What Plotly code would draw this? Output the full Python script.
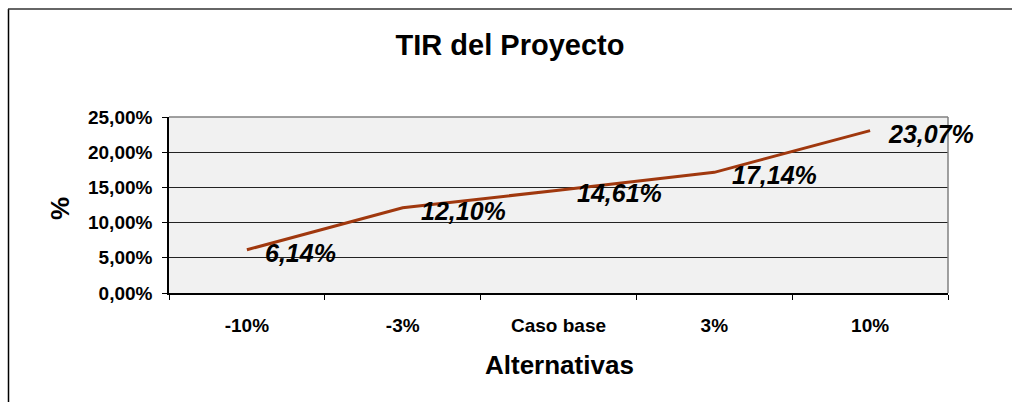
import plotly.graph_objects as go

categories = ["-10%", "-3%", "Caso base", "3%", "10%"]
tir_values = [0.0614, 0.1210, 0.1461, 0.1714, 0.2307]
y_ticks = [0, 0.05, 0.10, 0.15, 0.20, 0.25]

FONT = "Liberation Sans, Arial, sans-serif"
W, H = 1012, 402
L, R, T, B = 169, 64, 117, 109
pw, ph = W - L - R, H - T - B

fig = go.Figure()
fig.add_trace(go.Scatter(
    x=categories, y=tir_values, mode="lines",
    line=dict(color="#A0380E", width=3),
    hoverinfo="skip", showlegend=False,
))

for c, v in zip(categories, tir_values):
    fig.add_annotation(
        x=c, y=v, text="<i>" + f"{v*100:.2f}".replace(".", ",") + "%</i>",
        showarrow=False, xanchor="left", yanchor="middle",
        xshift=16, yshift=-3,
        font=dict(family=FONT, size=25, color="black", weight="bold"),
    )

def px_x(px):
    return (px - L) / pw
def px_y(py):
    return (H - B - py) / ph

# outer border (left and top only)
fig.add_shape(type="line", xref="paper", yref="paper",
              x0=px_x(8.5), x1=px_x(8.5), y0=px_y(9), y1=px_y(410),
              line=dict(color="black", width=1.5))
fig.add_shape(type="line", xref="paper", yref="paper",
              x0=px_x(8), x1=px_x(1020), y0=px_y(9), y1=px_y(9),
              line=dict(color="#333333", width=1.5))
# plot area border (top & right gray)
fig.add_shape(type="line", xref="paper", yref="paper",
              x0=0, x1=1, y0=1, y1=1, line=dict(color="#808080", width=1.5))
fig.add_shape(type="line", xref="paper", yref="paper",
              x0=1, x1=1, y0=0, y1=1, line=dict(color="#808080", width=1.5))

# axis titles as annotations for precise placement
fig.add_annotation(xref="paper", yref="paper", x=px_x(559), y=px_y(365),
                   text="Alternativas", showarrow=False,
                   xanchor="center", yanchor="middle",
                   font=dict(family=FONT, size=26, color="black", weight="bold"))
fig.add_annotation(xref="paper", yref="paper", x=px_x(60), y=px_y(209),
                   text="%", showarrow=False, textangle=-90,
                   xanchor="center", yanchor="middle",
                   font=dict(family=FONT, size=26, color="black", weight="bold"))

fig.update_layout(
    width=W, height=H,
    margin=dict(l=L, r=R, t=T, b=B, autoexpand=False),
    paper_bgcolor="white",
    plot_bgcolor="#f1f1f1",
    separators=",.",
    title=dict(text="TIR del Proyecto", x=510 / W, xanchor="center",
               y=1 - 45 / H, yanchor="middle",
               font=dict(family=FONT, size=29, color="black", weight="bold")),
    xaxis=dict(
        type="category", range=[-0.5, 4.5], tickson="boundaries",
        ticks="outside", ticklen=5, tickcolor="black",
        showline=True, linecolor="black", linewidth=1.5,
        showgrid=False, zeroline=False, ticklabelstandoff=14,
        tickfont=dict(family=FONT, size=19, color="black", weight="bold"),
    ),
    yaxis=dict(
        range=[0, 0.25], tickvals=y_ticks, tickformat=".2%",
        ticks="outside", ticklen=5, tickcolor="black",
        showline=True, linecolor="black", linewidth=1.5,
        showgrid=True, gridcolor="#222222", gridwidth=1,
        zeroline=False, ticklabelstandoff=6,
        tickfont=dict(family=FONT, size=19, color="black", weight="bold"),
    ),
)

fig.write_html("out.html", config={"displayModeBar": False},
               post_script="document.body.style.margin='0';document.body.style.overflow='hidden';")
